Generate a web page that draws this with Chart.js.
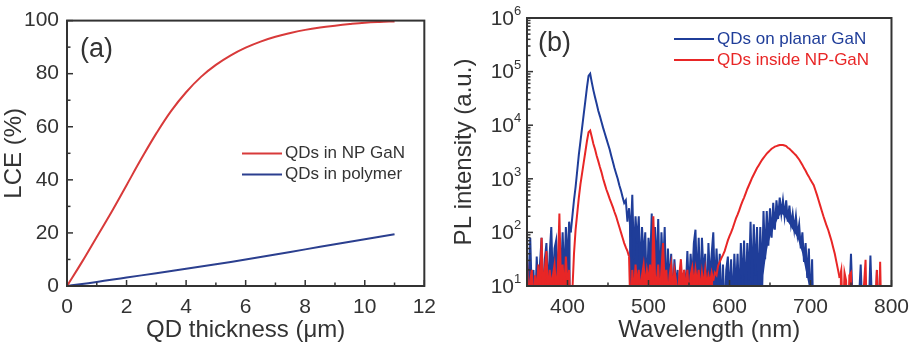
<!DOCTYPE html>
<html lang="en">
<head>
<meta charset="UTF-8" />
<title>LCE and PL spectra</title>
<script src="https://cdn.jsdelivr.net/npm/chart.js@4.4.0"></script>
<style>
  body { margin: 0; background: #fff; }
  .wrap { position: relative; width: 918px; height: 351px; overflow: hidden; }
  canvas { position: absolute; top: 0; }
</style>
</head>
<body>
<div class="wrap">
  <canvas id="lceChart" width="445" height="351" style="left:0"></canvas>
  <canvas id="plChart" width="473" height="351" style="left:445px"></canvas>
</div>
<script>
// (a) light conversion efficiency vs QD layer thickness
const thicknessUm = [0, 0.5, 1, 1.5, 2, 2.5, 3, 3.5, 4, 4.5, 5, 5.5, 6, 6.5, 7, 7.5, 8, 8.5, 9, 9.5, 10, 10.5, 11];
const lceNpGan    = [0, 9, 18.5, 28, 38, 48, 57.5, 66, 73, 78.8, 83.3, 86.9, 89.8, 92.1, 93.9, 95.3, 96.5, 97.4, 98.1, 98.7, 99.2, 99.5, 99.7];
const polyX       = [0, 1, 2, 3, 4, 5, 6, 7, 8, 9, 10, 11];
const lcePolymer  = [0, 1.5, 3.2, 4.8, 6.5, 8.2, 10, 11.9, 13.8, 15.7, 17.6, 19.5];

// (b) PL spectra, sampled every 2 nm from 350 nm; values are log10(intensity)
const wlStart = 350, wlStep = 2;
const planarLog = [
  2.0, 0.3, 1.9, 0.8, 1.3, 0.5, 1.55, 0.9, 1.4, 1.9,       // 350
  0.6, 1.5, 1.8, 0.9, 1.6, 2.1, 1.0, 1.7, 1.85, 1.1,       // 370
  1.9, 1.2, 2.0, 1.1, 2.1, 1.4, 2.2, 2.0, 2.3, 2.6,        // 390
  2.85, 3.15, 3.45, 3.7, 3.95, 4.2, 4.45, 4.7, 4.92, 4.96, // 410
  4.8, 4.65, 4.52, 4.4, 4.27, 4.17, 4.06, 3.95, 3.85, 3.75, // 430
  3.65, 3.55, 3.43, 3.32, 3.2, 3.1, 3.0, 2.88, 2.78, 2.66,  // 450
  2.55, 2.6, 2.2, 2.45, 1.9, 2.7, 1.5, 2.3, 1.8, 2.3,       // 470
  1.2, 2.1, 1.5, 2.0, 0.8, 1.9, 1.4, 2.35, 1.1, 2.1,        // 490
  1.3, 2.25, 0.9, 2.0, 1.3, 2.1, 0.7, 1.7, 1.0, 1.6,        // 510
  0.6, 1.5, 1.0, 1.3, 0.3, 1.2, 0.6, 1.3, 0.9, 1.65,        // 530
  0.9, 1.6, 1.1, 1.8, 2.05, 1.0, 1.9, 0.8, 1.9, 1.2,        // 550
  1.6, 0.6, 1.8, 1.1, 1.6, 2.0, 0.9, 1.7, 1.0, 1.6,         // 570
  0.5, 1.4, 0.4, 1.3, 1.55, 0.8, 1.5, 0.6, 1.6, 0.9,        // 590
  1.6, 0.7, 1.8, 1.0, 1.85, 0.8, 1.8, 1.1, 2.2, 1.0,        // 610
  2.15, 1.2, 2.1, 0.8, 2.1, 1.1, 2.4, 1.5, 2.4, 1.75,       // 630
  2.45, 1.9, 2.55, 2.05, 2.6, 2.25, 2.65, 2.35, 2.6, 2.3,   // 650
  2.6, 2.2, 2.5, 2.15, 2.35, 2.05, 2.3, 1.95, 2.15, 1.7,    // 670
  2.0, 1.45, 1.8, 1.15, 1.7, 0.6, 1.5, 0, 0.6, 0,           // 690
  0, 0, 0, 0, 0, 0, 0, 0, 0, 0,                             // 710
  0, 0, 0, 0, 0, 0, 0, 0, 0, 0.8,                           // 730
  1.6, 0.7, 0, 0, 0, 0.8, 1.4, 0.5, 0, 0,                   // 750
  0, 0.6, 1.57, 0.6, 0, 0, 1.3, 0.4, 0, 0,                  // 770
  0                                                         // 790
];
// top of the empty gap under the planar-GaN band, 640-700 nm (log10)
const humpStart = 640;
const humpFloorLog = [0, 1.2, 1.45, 1.65, 1.8, 1.9, 1.98, 2.05, 2.12, 2.2, 2.27, 2.32, 2.35, 2.33, 2.3, 2.26,
                      2.2, 2.15, 2.1, 2.05, 2.0, 1.95, 1.9, 1.8, 1.7, 1.6, 1.45, 1.3, 1.15, 1.0, 0];
const insideLog = [
  1.5, 0.7, 1.1, 1.3, 0.6, 1.2, 0.9, 1.4, 0.8, 1.9,         // 350
  0.9, 1.3, 1.65, 0.8, 1.3, 1.0, 1.2, 1.4, 0.9, 1.3,        // 370
  2.35, 1.0, 1.4, 0.9, 1.55, 1.0, 1.3, 0.3, 0.9, 1.6,       // 390
  2.05, 2.35, 2.65, 2.9, 3.1, 3.3, 3.5, 3.7, 3.87, 3.9,     // 410
  3.78, 3.65, 3.55, 3.43, 3.33, 3.22, 3.12, 3.0, 2.9, 2.8,  // 430
  2.72, 2.63, 2.55, 2.47, 2.38, 2.3, 2.2, 2.1, 2.0, 1.9,    // 450
  1.8, 1.72, 1.65, 1.55, 0.3, 1.3, 0.8, 1.4, 1.0, 1.3,      // 470
  0.9, 1.2, 1.4, 1.0, 1.3, 1.1, 1.4, 0.9, 2.3, 1.2,         // 490
  1.0, 1.4, 0.8, 1.3, 1.8, 1.0, 1.3, 0.8, 1.2, 1.4,         // 510
  0.9, 1.3, 1.1, 0.7, 1.2, 1.5, 1.0, 1.3, 0.9, 1.3,         // 530
  0.8, 1.2, 1.35, 1.0, 1.3, 1.05, 1.3, 0.9, 1.25, 1.0,      // 550
  1.3, 1.0, 1.2, 1.05, 1.25, 1.1, 1.25, 1.2, 1.38, 1.45,    // 570
  1.52, 1.58, 1.65, 1.75, 1.85, 1.93, 2.0, 2.08, 2.17, 2.26, // 590
  2.33, 2.41, 2.5, 2.58, 2.65, 2.73, 2.81, 2.88, 2.95, 3.02, // 610
  3.08, 3.14, 3.2, 3.25, 3.3, 3.35, 3.39, 3.43, 3.47, 3.5,  // 630
  3.53, 3.56, 3.58, 3.6, 3.61, 3.62, 3.63, 3.63, 3.63, 3.62, // 650
  3.61, 3.58, 3.56, 3.53, 3.5, 3.47, 3.44, 3.4, 3.36, 3.31, // 670
  3.26, 3.2, 3.15, 3.09, 3.04, 2.98, 2.93, 2.88, 2.79, 2.7, // 690
  2.6, 2.5, 2.4, 2.3, 2.21, 2.12, 2.04, 1.94, 1.84, 1.72,   // 710
  1.6, 1.45, 1.3, 1.15, 1.3, 0.3, 1.25, 1.1, 0, 1.2,        // 730
  1.25, 0, 0.9, 0, 0.7, 0, 0.8, 0, 1.0, 1.49,               // 750
  0, 0, 0.9, 0, 0, 0.7, 1.3, 0, 1.45, 0,                    // 770
  0                                                         // 790
];
const wlTicks = [400, 500, 600, 700, 800];
const plDecades = [1e1, 1e2, 1e3, 1e4, 1e5, 1e6];

// wavelength ranges where the noisy signal is drawn solid down to its floor
const planarNoise = [[350, 404], [476, 790]];
const insideNoise = [[350, 404], [476, 580], [736, 790]];

const FONT = '"Liberation Sans", Arial, sans-serif';
Chart.defaults.font.family = FONT;
Chart.defaults.color = '#333';

const BLUE = '#1f3d99', RED = '#e82626';

const toPts = (xs, ys) => xs.map((x, i) => ({ x, y: ys[i] }));
const specPts = logs => logs.map((v, i) => ({ x: wlStart + i * wlStep, y: Math.pow(10, v) }));
const floorPts = planarLog.map((v, i) => {
  const w = wlStart + i * wlStep, k = (w - humpStart) / wlStep;
  return { x: w, y: Math.pow(10, k >= 0 && k < humpFloorLog.length ? humpFloorLog[k] : 0) };
});
const noiseFill = (ranges, color) => c => {
  const a = c.p0.parsed.x, b = c.p1.parsed.x;
  return ranges.some(r => a >= r[0] && b <= r[1]) ? color : 'rgba(0,0,0,0)';
};

// frame, inward ticks, panel tag and legend
const boxPlugin = {
  id: 'box',
  afterDatasetsDraw(chart, args, o) {
    const { ctx, chartArea: a } = chart;
    const sx = chart.scales.x, sy = chart.scales.y;
    const seg = (x1, y1, x2, y2) => { ctx.beginPath(); ctx.moveTo(x1, y1); ctx.lineTo(x2, y2); ctx.stroke(); };
    ctx.save();
    ctx.strokeStyle = '#333';
    ctx.lineWidth = 1.5;
    o.xMajor.forEach(v => { const x = sx.getPixelForValue(v); seg(x, a.bottom, x, a.bottom - 6); });
    o.xMinor.forEach(v => { const x = sx.getPixelForValue(v); seg(x, a.bottom, x, a.bottom - 3.5); });
    o.yMajor.forEach(v => { const y = sy.getPixelForValue(v); seg(a.left, y, a.left + 6, y); });
    o.yMinor.forEach(v => { const y = sy.getPixelForValue(v); seg(a.left, y, a.left + 3.5, y); });
    ctx.lineWidth = 2;
    ctx.strokeRect(a.left, a.top, a.right - a.left, a.bottom - a.top);

    ctx.fillStyle = '#333';
    ctx.textBaseline = 'middle';
    ctx.textAlign = 'left';
    ctx.font = '27px ' + FONT;
    ctx.fillText(o.tag, a.left + o.tagX, a.top + o.tagY);

    if (o.powLabels) {
      o.yMajor.forEach(v => {
        const y = sy.getPixelForValue(v);
        ctx.font = '21px ' + FONT;
        ctx.textAlign = 'right';
        ctx.textBaseline = 'middle';
        ctx.fillText('10', a.left - 13, y + 1);
        ctx.font = '13px ' + FONT;
        ctx.textAlign = 'left';
        ctx.textBaseline = 'top';
        ctx.fillText(String(Math.round(Math.log10(v))), a.left - 13, y - 13);
      });
    }

    ctx.font = '17px ' + FONT;
    ctx.textAlign = 'left';
    ctx.textBaseline = 'middle';
    o.legend.forEach((it, i) => {
      const ds = chart.data.datasets[it.ds];
      const x = a.left + o.legX, y = a.top + o.legY + i * o.legGap;
      ctx.strokeStyle = ds.borderColor;
      ctx.lineWidth = 2;
      seg(x, y, x + 40, y);
      ctx.fillStyle = it.textColor || '#333';
      ctx.fillText(ds.label, x + 43, y);
    });
    ctx.restore();
  }
};

const noGrid = { display: false, drawTicks: false };

new Chart(document.getElementById('lceChart'), {
  type: 'line',
  data: {
    datasets: [
      { label: 'QDs in NP GaN', data: toPts(thicknessUm, lceNpGan), borderColor: '#d83a3a', borderWidth: 2, pointRadius: 0, tension: 0.4 },
      { label: 'QDs in polymer', data: toPts(polyX, lcePolymer), borderColor: '#2b3f8f', borderWidth: 2, pointRadius: 0, tension: 0.4 }
    ]
  },
  options: {
    responsive: false,
    animation: false,
    devicePixelRatio: 1,
    layout: { padding: { top: 17, right: 12, left: 0, bottom: 0 } },
    plugins: {
      legend: { display: false },
      tooltip: { enabled: false },
      box: {
        xMajor: [0, 2, 4, 6, 8, 10, 12], xMinor: [1, 3, 5, 7, 9, 11],
        yMajor: [0, 20, 40, 60, 80, 100], yMinor: [10, 30, 50, 70, 90],
        tag: '(a)', tagX: 13, tagY: 29,
        legX: 175, legY: 133, legGap: 21,
        legend: [{ ds: 0 }, { ds: 1 }]
      }
    },
    scales: {
      x: {
        type: 'linear', min: 0, max: 12,
        grid: noGrid, border: { display: false },
        ticks: { stepSize: 2, padding: 9, font: { size: 21 }, maxRotation: 0 },
        title: { display: true, text: 'QD thickness (\u03bcm)', font: { size: 24 }, padding: { top: 0, bottom: 6 } },
        afterFit: s => { s.height = 65; }
      },
      y: {
        min: 0, max: 100,
        grid: noGrid, border: { display: false },
        ticks: { stepSize: 20, padding: 8, font: { size: 21 } },
        title: { display: true, text: 'LCE (%)', font: { size: 24 }, padding: { top: 0, bottom: 0 } },
        afterFit: s => { s.width = 67; }
      }
    }
  },
  plugins: [boxPlugin]
});

const logMinor = [];
plDecades.slice(0, -1).forEach(d => { for (let k = 2; k <= 9; k++) logMinor.push(k * d); });

new Chart(document.getElementById('plChart'), {
  type: 'line',
  data: {
    datasets: [
      {
        label: 'QDs inside NP-GaN', data: specPts(insideLog),
        borderColor: RED, backgroundColor: RED, borderWidth: 2, pointRadius: 0,
        fill: 'start', segment: { backgroundColor: noiseFill(insideNoise, RED) }
      },
      {
        label: 'QDs on planar GaN', data: specPts(planarLog),
        borderColor: BLUE, backgroundColor: BLUE, borderWidth: 2, pointRadius: 0,
        fill: 2, segment: { backgroundColor: noiseFill(planarNoise, BLUE) }
      },
      {
        label: 'planar floor', data: floorPts,
        borderColor: 'rgba(0,0,0,0)', borderWidth: 1, pointRadius: 0, fill: false
      }
    ]
  },
  options: {
    responsive: false,
    animation: false,
    devicePixelRatio: 1,
    layout: { padding: { top: 18, right: 26, left: 0, bottom: 0 } },
    plugins: {
      legend: { display: false },
      tooltip: { enabled: false },
      filler: { drawTime: 'beforeDatasetDraw' },
      box: {
        xMajor: wlTicks, xMinor: [450, 550, 650, 750],
        yMajor: plDecades, yMinor: logMinor,
        powLabels: true,
        tag: '(b)', tagX: 11, tagY: 26,
        legX: 147, legY: 21, legGap: 21,
        legend: [{ ds: 1, textColor: BLUE }, { ds: 0, textColor: RED }]
      }
    },
    scales: {
      x: {
        type: 'linear', min: 350, max: 800,
        grid: noGrid, border: { display: false },
        afterBuildTicks: s => { s.ticks = wlTicks.map(v => ({ value: v })); },
        ticks: { padding: 9, font: { size: 21 }, maxRotation: 0 },
        title: { display: true, text: 'Wavelength (nm)', font: { size: 24 }, padding: { top: 0, bottom: 6 } },
        afterFit: s => { s.height = 65; }
      },
      y: {
        type: 'logarithmic', min: 10, max: 1e6,
        grid: noGrid, border: { display: false },
        ticks: { display: false },
        title: { display: true, text: 'PL intensity (a.u.)', font: { size: 24 }, padding: { top: 5, bottom: 0 } },
        afterFit: s => { s.width = 82; }
      }
    }
  },
  plugins: [boxPlugin]
});
</script>
</body>
</html>
